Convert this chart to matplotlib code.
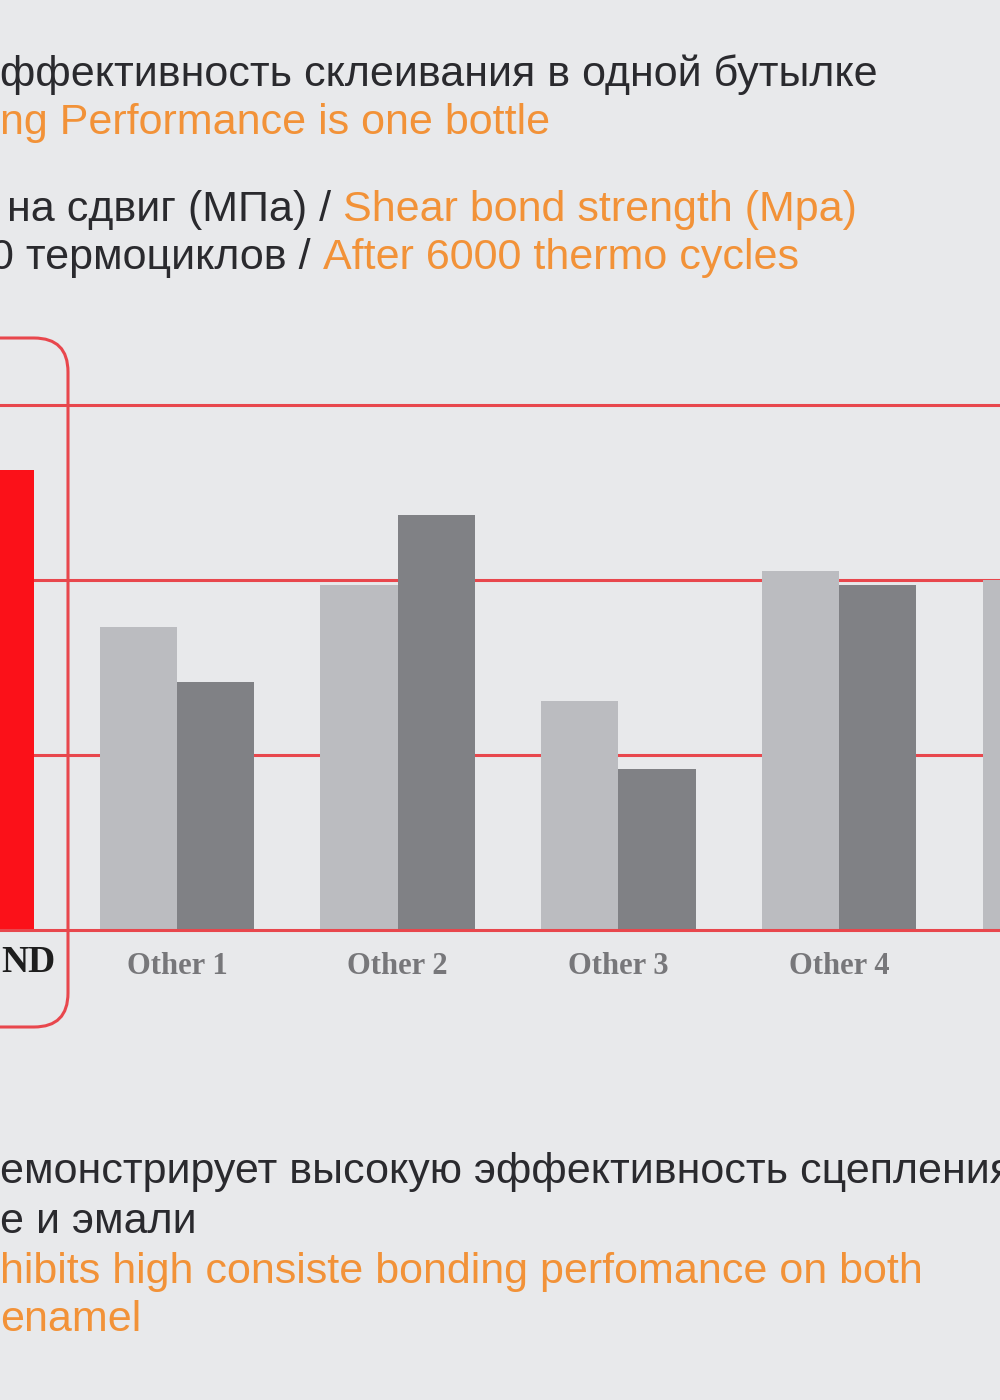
"""Shear bond strength after thermocycling: red bar vs. four competitors (cropped slide)."""

import matplotlib

matplotlib.use("Agg")
import matplotlib.pyplot as plt
import numpy as np
from matplotlib.patches import FancyBboxPatch

# --- data (MPa) -------------------------------------------------------------
GROUPS = ["BOND", "Other 1", "Other 2", "Other 3", "Other 4", "Other 5"]
INITIAL = [np.nan, 17.3, 19.7, 13.1, 20.5, 20.0]  # light grey, left of pair
AFTER = [26.3, 14.2, 23.7, 9.2, 19.7, np.nan]  # dark grey (red for the product)
GRID_LEVELS = [10, 20, 30]

TITLE_RU = "ффективность склеивания в одной бутылке"
TITLE_EN = "ng Performance is one bottle"
AXIS_RU = " на сдвиг (МПа) / "
AXIS_EN = "Shear bond strength (Mpa)"
CYCLE_RU = "0 термоциклов / "
CYCLE_EN = "After 6000 thermo cycles"
NOTE_RU = ["емонстрирует высокую эффективность сцепления", "е и эмали"]
NOTE_EN = ["hibits high consiste bonding perfomance on both", "enamel"]

BG = "#e8e9eb"
LIGHT = "#bbbcc0"
DARK = "#808185"
RED = "#fb1119"
GRID = "#e8474d"
INK = "#2a2a2e"
ORANGE = "#f29238"

plt.rcParams["font.family"] = ["Liberation Sans", "DejaVu Sans"]

fig = plt.figure(figsize=(10, 14), dpi=100, facecolor=BG)

# overlay for the slide text and the rounded highlight box
bg = fig.add_axes([0, 0, 1, 1], facecolor="none")
bg.set_xlim(0, 1000)
bg.set_ylim(1400, 0)
bg.axis("off")

ax = fig.add_axes([0, (1400 - 930) / 1400, 1, 600 / 1400], facecolor="none")
ax.set_zorder(1)
bg.set_zorder(2)

x = np.arange(len(GROUPS))
w = 0.35
ax.bar(x - w / 2, INITIAL, w, color=LIGHT, zorder=2)
colors = [RED] + [DARK] * (len(GROUPS) - 1)
ax.bar(x + w / 2, AFTER, w, color=colors, zorder=2)

for lv in GRID_LEVELS:
    ax.axhline(lv, color=GRID, lw=2.2, zorder=1)
ax.axhline(0, color=GRID, lw=2.2, zorder=3, clip_on=False)

ax.set_xticks(x[1:], GROUPS[1:])
# one group step is ~220.7 px, group "Other 1" centred at x = 177 px
ax.set_xlim(1 - 177 / 220.7, 1 + 823 / 220.7)
ax.set_ylim(0, 600 / 17.5)
ax.tick_params(length=0, pad=16)
for lab in ax.get_xticklabels():
    lab.set_family("Liberation Serif")
    lab.set_fontsize(22)
    lab.set_fontweight("bold")
    lab.set_color("#77777a")
ax.set_yticks([])
for s in ax.spines.values():
    s.set_visible(False)
ax.text(0.45, -1.85, "ND", ha="right", va="center", family="Liberation Serif",
        fontsize=27, fontweight="bold", color="#1e1e1e", clip_on=False)

box = FancyBboxPatch((-120, 338), 188, 689, boxstyle="round,pad=0,rounding_size=34",
                     fill=False, ec=GRID, lw=2.2, transform=bg.transData, clip_on=False)
bg.add_patch(box)

# slide text
fs = 31
bg.text(0, 75, TITLE_RU, fontsize=fs, color=INK, va="center", ha="left")
bg.text(0, 123, TITLE_EN, fontsize=fs, color=ORANGE, va="center", ha="left")
t = bg.text(-5, 210, AXIS_RU, fontsize=fs, color=INK, va="center", ha="left")
bg.annotate(AXIS_EN, xy=(1, 0), xycoords=t, va="bottom", ha="left", fontsize=fs, color=ORANGE)
t = bg.text(-10, 258, CYCLE_RU, fontsize=fs, color=INK, va="center", ha="left")
bg.annotate(CYCLE_EN, xy=(1, 0), xycoords=t, va="bottom", ha="left", fontsize=fs, color=ORANGE)

for i, line in enumerate(NOTE_RU):
    bg.text(0, 1172 + 50 * i, line, fontsize=fs, color=INK, va="center", ha="left")
for i, line in enumerate(NOTE_EN):
    bg.text(0, 1272 + 48 * i, line, fontsize=fs, color=ORANGE, va="center", ha="left")

fig.savefig("out.png", dpi=100, facecolor=BG)
